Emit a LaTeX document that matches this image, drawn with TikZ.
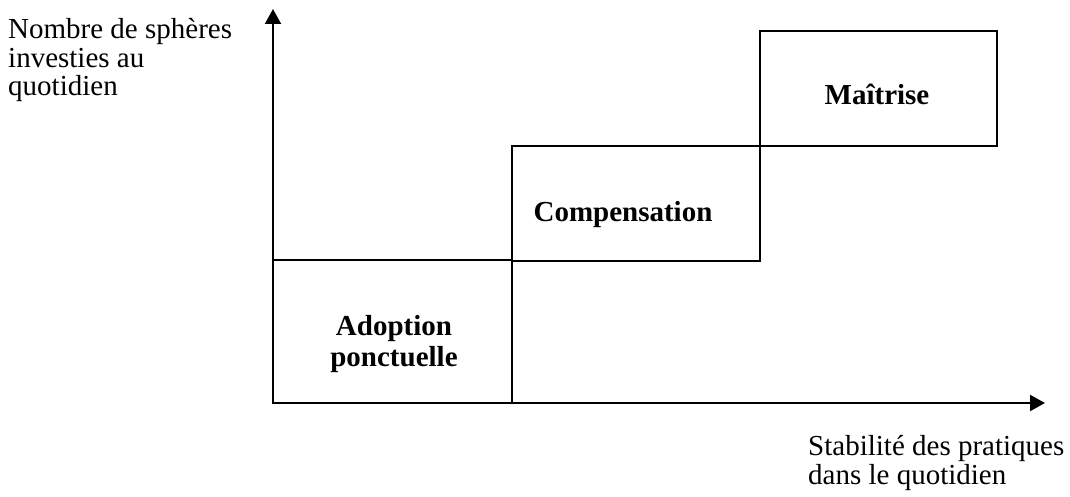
\documentclass[tikz,border=0pt]{standalone}
\usepackage{fontspec}
\setmainfont{Liberation Serif}
\usetikzlibrary{arrows.meta}
\begin{document}
\begin{tikzpicture}[x=1pt,y=-1pt,
  axis/.style={line width=2.2pt,-{Triangle[length=15pt,width=16pt]}},
  stage/.style={draw,line width=2pt,inner sep=0pt,outer sep=0pt},
  lbl/.style={font=\fontsize{29}{28.5}\selectfont,align=left,anchor=base west,inner sep=0pt},
  stagelbl/.style={font=\fontsize{29}{31}\selectfont\bfseries,align=center,anchor=base,inner sep=0pt}]
\useasboundingbox (0,0) rectangle (1070,497);
\coordinate (O) at (273,403);
\coordinate (ytop) at (273,9);
\coordinate (xend) at (1045,403);
\node[stage,minimum width=239pt,minimum height=143pt] (b1) at (392.5,331.5) {};
\node[stage,minimum width=248pt,minimum height=115pt] (b2) at (636,203.5) {};
\node[stage,minimum width=237pt,minimum height=115pt] (b3) at (878.5,88.5) {};
\draw[axis] (O) -- (ytop);
\draw[axis] (O) -- (xend);
\node[stagelbl] (t1) at (394,366) {Adoption\\ponctuelle};
\node[stagelbl] (t2) at (623,221) {Compensation};
\node[stagelbl] (t3) at (877,105) {Maîtrise};
\node[lbl] (ylab) at (8,96) {Nombre de sphères\\investies au\\quotidien};
\node[lbl] (xlab) at (808,484) {Stabilité des pratiques\\dans le quotidien};
\end{tikzpicture}
\end{document}
